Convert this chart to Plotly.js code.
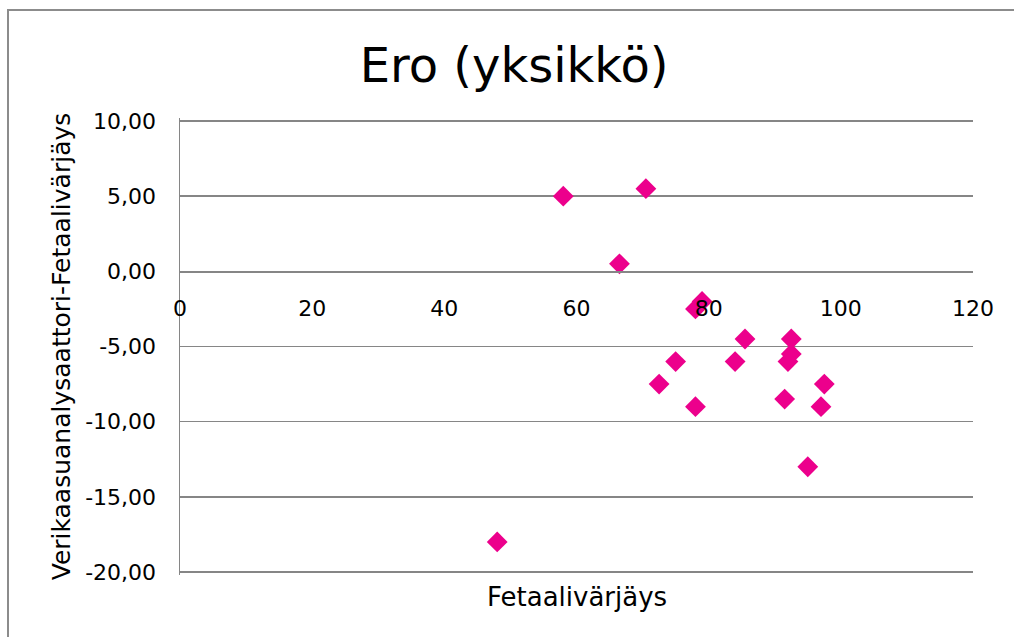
<!DOCTYPE html>
<html>
<head>
<meta charset="utf-8">
<script src="https://cdn.plot.ly/plotly-3.0.1.min.js"></script>
<style>
html,body{margin:0;padding:0;background:#fff;}
#chart{width:1014px;height:637px;}
</style>
</head>
<body>
<div id="chart"></div>
<script>
const fetaali = [58, 70.5, 66.5, 79, 78, 85.5, 92.5, 92.5, 92, 75, 84, 72.5, 97.5, 78, 91.5, 97, 95, 48];
const ero = [5, 5.5, 0.5, -2, -2.5, -4.5, -4.5, -5.5, -6, -6, -6, -7.5, -7.5, -9, -8.5, -9, -13, -18];
const yTickVals = [10, 5, 0, -5, -10, -15, -20];
const yTickText = ['10,00', '5,00', '0,00', '-5,00', '-10,00', '-15,00', '-20,00'];
const xTickVals = [0, 20, 40, 60, 80, 100, 120];
const chartTitle = 'Ero (yksikkö)';
const xTitle = 'Fetaalivärjäys';
const yTitle = 'Verikaasuanalysaattori-Fetaalivärjäys';

const FONT = 'DejaVu Sans, sans-serif';
const GRID = '#868686';

const trace = {
  x: fetaali, y: ero, type: 'scatter', mode: 'markers',
  marker: {symbol: 'diamond', size: 16, color: '#EC008C'},
  hoverinfo: 'x+y'
};

const layout = {
  width: 1014, height: 637,
  margin: {l: 180, r: 41, t: 118, b: 62},
  paper_bgcolor: '#fff', plot_bgcolor: '#fff',
  showlegend: false,
  separators: ',.',
  font: {family: FONT, color: '#000', size: 22},
  title: {text: chartTitle, font: {family: FONT, size: 48, color: '#000'}, x: 0.507, xanchor: 'center', y: 0.898, yanchor: 'middle'},
  xaxis: {
    range: [0, 120], tickmode: 'array', tickvals: xTickVals,
    showgrid: false, zeroline: false,
    showline: true, linecolor: GRID, linewidth: 1.5,
    anchor: 'free', position: 0.6652,
    ticks: '', ticklabelstandoff: 17,
    tickfont: {family: FONT, size: 22, color: '#000'}
  },
  yaxis: {
    range: [-20.2, 10.2], tickmode: 'array', tickvals: yTickVals, ticktext: yTickText,
    showgrid: true, gridcolor: GRID, gridwidth: 1.5,
    zeroline: false,
    showline: true, linecolor: GRID, linewidth: 1.5,
    ticks: '', ticklabelstandoff: 18,
    tickfont: {family: FONT, size: 22, color: '#000'},
    title: {text: yTitle, font: {family: FONT, size: 25, color: '#000'}, standoff: 7}
  },
  annotations: [{
    text: xTitle, xref: 'paper', yref: 'paper', x: 0.5, y: -0.0481,
    xanchor: 'center', yanchor: 'middle', showarrow: false,
    font: {family: FONT, size: 26, color: '#000'}
  }],
  shapes: [{
    type: 'rect', xref: 'paper', yref: 'paper',
    x0: -0.2169, x1: 1.2, y0: -0.3, y1: 1.2363,
    line: {color: '#8c8c8c', width: 2}, fillcolor: 'rgba(0,0,0,0)', layer: 'below'
  }]
};

Plotly.newPlot('chart', [trace], layout, {displayModeBar: false, staticPlot: true});
</script>
</body>
</html>
